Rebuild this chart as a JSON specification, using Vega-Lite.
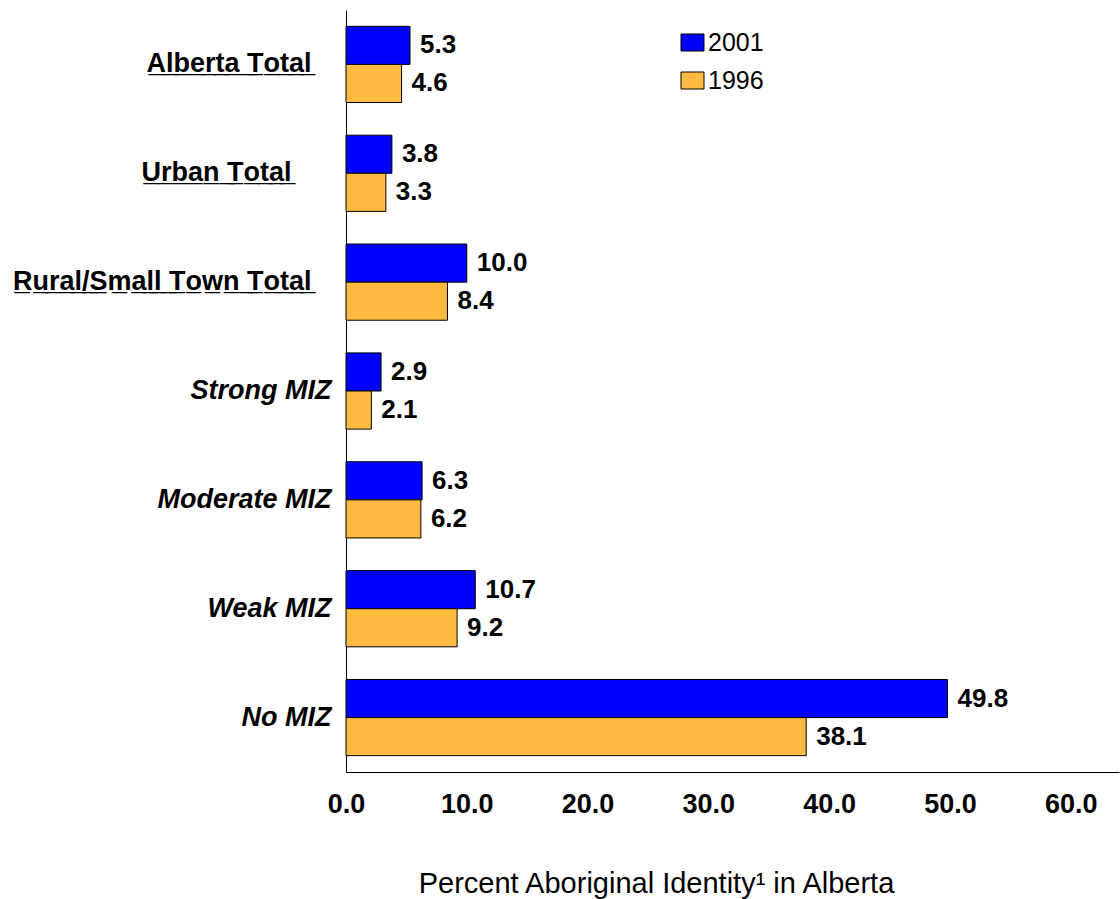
{
  "$schema": "https://vega.github.io/schema/vega-lite/v6.json",
  "width": 773,
  "height": 762,
  "autosize": {"type": "none"},
  "padding": {"left": 346, "top": 10, "right": 1, "bottom": 127},
  "background": "white",
  "config": {"view": {"stroke": null}, "font": "Liberation Sans"},
  "data": {
    "values": [
      {"region": "Alberta Total", "year": "2001", "pct": 5.3},
      {"region": "Alberta Total", "year": "1996", "pct": 4.6},
      {"region": "Urban Total", "year": "2001", "pct": 3.8},
      {"region": "Urban Total", "year": "1996", "pct": 3.3},
      {"region": "Rural/Small Town Total", "year": "2001", "pct": 10.0},
      {"region": "Rural/Small Town Total", "year": "1996", "pct": 8.4},
      {"region": "Strong MIZ", "year": "2001", "pct": 2.9},
      {"region": "Strong MIZ", "year": "1996", "pct": 2.1},
      {"region": "Moderate MIZ", "year": "2001", "pct": 6.3},
      {"region": "Moderate MIZ", "year": "1996", "pct": 6.2},
      {"region": "Weak MIZ", "year": "2001", "pct": 10.7},
      {"region": "Weak MIZ", "year": "1996", "pct": 9.2},
      {"region": "No MIZ", "year": "2001", "pct": 49.8},
      {"region": "No MIZ", "year": "1996", "pct": 38.1}
    ]
  },
  "encoding": {
    "y": {
      "field": "region",
      "type": "nominal",
      "sort": ["Alberta Total", "Urban Total", "Rural/Small Town Total", "Strong MIZ", "Moderate MIZ", "Weak MIZ", "No MIZ"],
      "scale": {"paddingInner": 0.3, "paddingOuter": 0.15},
      "axis": {
        "title": null,
        "ticks": false,
        "domainColor": "black",
        "domainWidth": 1,
        "labelFontSize": 27,
        "labelFontWeight": "bold",
        "labelColor": "black",
        "labelPadding": 15,
        "labelLimit": 400,
        "labelFontStyle": {"condition": {"test": "datum.value == 'Strong MIZ' || datum.value == 'Moderate MIZ' || datum.value == 'Weak MIZ' || datum.value == 'No MIZ'", "value": "italic"}, "value": "normal"},
        "labelExpr": "datum.label == 'Urban Total' ? replace(datum.label, regexp('(.)','g'), '$1\u0332') + '\u2800\u2800' : (datum.label == 'Alberta Total' || datum.label == 'Rural/Small Town Total') ? replace(datum.label, regexp('(.)','g'), '$1\u0332') + '\u2800' : datum.label"
      }
    },
    "yOffset": {
      "field": "year",
      "type": "nominal",
      "sort": ["2001", "1996"],
      "scale": {"paddingInner": 0, "paddingOuter": 0}
    },
    "x": {
      "field": "pct",
      "type": "quantitative",
      "scale": {"domain": [0, 64], "nice": false},
      "axis": {
        "values": [0, 10, 20, 30, 40, 50, 60],
        "format": ".1f",
        "labelFontSize": 27,
        "labelFontWeight": "bold",
        "labelColor": "black",
        "labelFlush": false,
        "labelOverlap": false,
        "labelPadding": 19,
        "ticks": false,
        "grid": false,
        "domainColor": "black",
        "domainWidth": 1,
        "title": "Percent Aboriginal Identity¹ in Alberta",
        "titleFontSize": 29,
        "titleFontWeight": "normal",
        "titleColor": "black",
        "titlePadding": 52,
        "titleX": 310,
        "titleAlign": "center"
      }
    }
  },
  "layer": [
    {
      "mark": {"type": "bar", "stroke": "black", "strokeWidth": 1},
      "encoding": {
        "color": {
          "field": "year",
          "type": "nominal",
          "scale": {"domain": ["2001", "1996"], "range": ["#0000FF", "#FFBA42"]},
          "legend": {
            "orient": "none",
            "legendX": 334,
            "legendY": 20,
            "title": null,
            "symbolType": "M-1,-0.74H1V0.74H-1Z",
            "symbolSize": 529,
            "symbolStrokeColor": "black",
            "symbolStrokeWidth": 1,
            "symbolOpacity": 1,
            "labelFontSize": 25,
            "labelColor": "black",
            "labelOffset": 3,
            "rowPadding": 12
          }
        }
      }
    },
    {
      "mark": {"type": "text", "align": "left", "baseline": "middle", "dx": 10, "fontSize": 26, "fontWeight": "bold", "color": "black"},
      "encoding": {"text": {"field": "pct", "type": "quantitative", "format": ".1f"}}
    }
  ]
}
